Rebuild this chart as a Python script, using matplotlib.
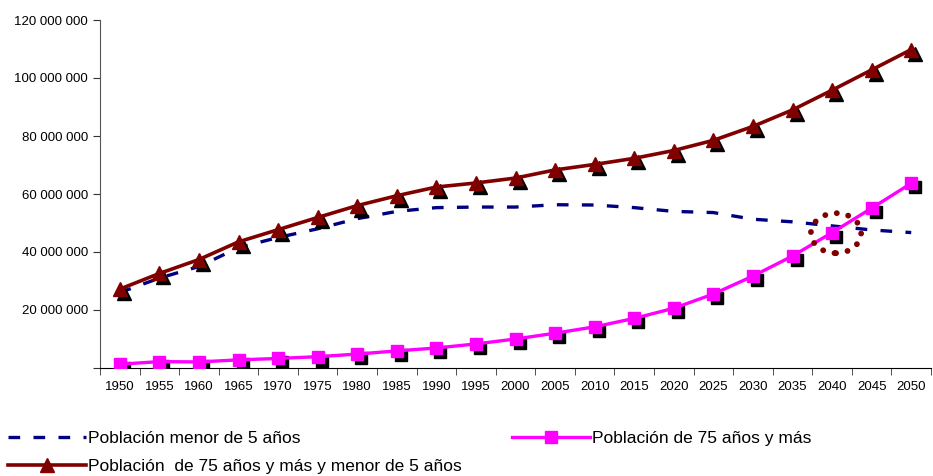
import matplotlib
matplotlib.use("Agg")
import matplotlib.pyplot as plt
import matplotlib.transforms as mtransforms
from matplotlib.patches import Ellipse
from matplotlib.ticker import FuncFormatter, MultipleLocator

plt.rcParams['font.family'] = ['Liberation Sans', 'DejaVu Sans']

# population series (millions)
years = [1950, 1955, 1960, 1965, 1970, 1975, 1980, 1985, 1990, 1995, 2000,
         2005, 2010, 2015, 2020, 2025, 2030, 2035, 2040, 2045, 2050]
menor_5 = [26.0, 31.0, 35.0, 41.5, 45.0, 48.0, 51.5, 54.0, 55.3, 55.5, 55.5,
           56.3, 56.2, 55.3, 54.0, 53.6, 51.3, 50.4, 49.0, 47.6, 46.7]
mayor_75 = [1.3, 2.2, 2.1, 2.8, 3.3, 3.9, 4.8, 5.9, 6.9, 8.3, 10.0,
            12.0, 14.2, 17.1, 20.6, 25.5, 31.7, 38.6, 46.7, 55.1, 63.7]
total = [27.2, 32.6, 37.4, 43.5, 47.7, 51.9, 56.0, 59.4, 62.4, 63.8, 65.5,
         68.3, 70.2, 72.3, 75.0, 78.5, 83.3, 89.0, 95.8, 102.8, 109.8]

labels = ["Población menor de 5 años",
          "Población de 75 años y más",
          "Población  de 75 años y más y menor de 5 años"]

fig = plt.figure(figsize=(9.33, 4.76), dpi=100)
ax = fig.add_axes([100 / 933, 1 - 368 / 476, 831 / 933, 348 / 476])

x = list(range(len(years)))
m = 1e6
shadow = mtransforms.offset_copy(ax.transData, fig=fig, x=4, y=-4, units='dots')

l_blue, = ax.plot(x, [v * m for v in menor_5], color='#000080', lw=2.4,
                  dashes=(3.5, 4), label=labels[0], zorder=3)

ax.plot(x, [v * m for v in mayor_75], ls='none', marker='s', ms=8.5,
        color='black', transform=shadow, zorder=4)
l_pink, = ax.plot(x, [v * m for v in mayor_75], color='#FF00FF', lw=2.4,
                  marker='s', ms=8.5, label=labels[1], zorder=5)

ax.plot(x, [v * m for v in total], ls='none', marker='^', ms=10.5,
        color='black', transform=shadow, zorder=6)
l_brown, = ax.plot(x, [v * m for v in total], color='#800000', lw=2.6,
                   marker='^', ms=10.5, label=labels[2], zorder=7)

# dotted circle around the crossing point
ax.add_patch(Ellipse((18.1, 46.5 * m), 1.27, 13.8 * m, fill=False,
                     edgecolor='#800000', lw=4.2, linestyle=(0, (0.01, 2.0)),
                     capstyle='round', zorder=8))

ax.set_xlim(-0.5, len(years) - 0.5)
ax.set_ylim(0, 120 * m)
ax.set_xticks(x)
ax.set_xticklabels([str(y) for y in years], fontsize=9.5)
ax.set_xticks([i - 0.5 for i in range(len(years) + 1)], minor=True)
ax.tick_params(axis='x', which='major', length=0, pad=9)
ax.tick_params(axis='x', which='minor', length=5, direction='out', color='#333333')
ax.yaxis.set_major_locator(MultipleLocator(20 * m))
ax.yaxis.set_major_formatter(FuncFormatter(
    lambda v, p: '' if v == 0 else f"{int(v):,}".replace(',', ' ')))
ax.tick_params(axis='y', length=5, direction='out', labelsize=9.5, color='#333333')
for s in ['top', 'right']:
    ax.spines[s].set_visible(False)
ax.spines['left'].set_color('#555555')
ax.spines['bottom'].set_color('black')

fig.legend(handles=[l_blue, l_brown, l_pink], ncol=2, frameon=False,
           loc='upper left', bbox_to_anchor=(8 / 933, 1 - 431 / 476),
           fontsize=12.5, handlelength=4.5, handletextpad=0.1,
           labelspacing=0.75, columnspacing=2.9, borderaxespad=0, borderpad=0)

fig.savefig("out.png", dpi=100)
